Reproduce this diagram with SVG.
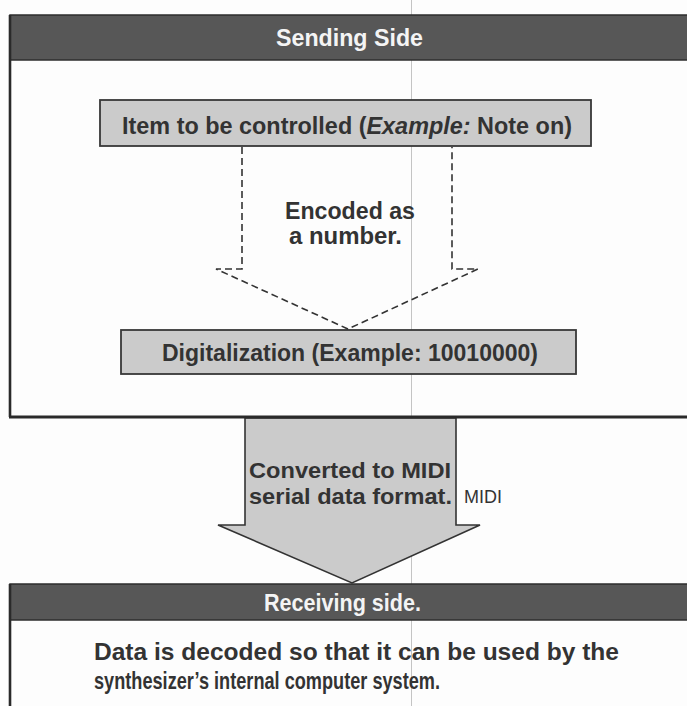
<svg xmlns="http://www.w3.org/2000/svg" width="687" height="706" viewBox="0 0 687 706">
<style>
  .hdr { fill: #575757; stroke: #2e2e2e; stroke-width: 1.5; }
  .hdrtxt { font-family: "Liberation Sans", Arial, sans-serif; font-weight: bold; font-size: 24px; fill: #f4f4f4; }
  .box { fill: #cbcbcb; stroke: #383838; stroke-width: 1.8; }
  .txt { font-family: "Liberation Sans", Arial, sans-serif; font-weight: bold; font-size: 24px; fill: #333; }
  .txt2 { font-family: "Liberation Sans", Arial, sans-serif; font-weight: bold; font-size: 22px; fill: #333; }
  .border { stroke: #2a2a2a; fill: none; }
  .dash { fill: none; stroke: #333; stroke-width: 1.6; stroke-dasharray: 7 4; }
  .big { fill: #cbcbcb; stroke: #333; stroke-width: 1.6; stroke-linejoin: miter; }
</style>
<rect x="0" y="0" width="687" height="706" fill="#fdfdfd"/>
<line x1="411.5" y1="0" x2="411.5" y2="706" stroke="#c4c4c4" stroke-width="1"/>

<g id="sending">
  <rect class="hdr" x="10" y="15" width="690" height="45"/>
  <text class="hdrtxt" x="276" y="46" textLength="147" lengthAdjust="spacingAndGlyphs">Sending Side</text>
  <line class="border" x1="10" y1="15" x2="10" y2="417" stroke-width="2.6"/>
</g>

<g id="item">
  <rect class="box" x="100" y="100" width="491" height="46"/>
  <text class="txt" x="122" y="134" textLength="450" lengthAdjust="spacingAndGlyphs">Item to be controlled (<tspan font-style="italic">Example:</tspan> Note on)</text>
</g>

<g id="digital">
  <rect class="box" x="121" y="330" width="455" height="44"/>
  <text class="txt" x="162" y="361" textLength="376" lengthAdjust="spacingAndGlyphs">Digitalization (Example: 10010000)</text>
</g>

<g id="connectors">
  <path class="dash" d="M242,147 V269 H216 L348,329 L478,269 H452 V147"/>
  <polygon class="big" points="245,418 456,418 456,525 480,525 352,583 218,525 245,525"/>
  <line class="border" x1="9" y1="417" x2="687" y2="417" stroke-width="3"/>
</g>

<g id="encoded">
  <text class="txt" x="285" y="219" textLength="130" lengthAdjust="spacingAndGlyphs">Encoded as</text>
  <text class="txt" x="289" y="244" textLength="113" lengthAdjust="spacingAndGlyphs">a number.</text>
</g>

<g id="converted">
  <text class="txt2" x="249" y="478" textLength="202" lengthAdjust="spacingAndGlyphs">Converted to MIDI</text>
  <text class="txt2" x="249" y="504" textLength="203" lengthAdjust="spacingAndGlyphs">serial data format.</text>
  <text x="464" y="503" font-family="'Liberation Sans', Arial, sans-serif" font-size="19" fill="#333" textLength="38" lengthAdjust="spacingAndGlyphs">MIDI</text>
</g>

<g id="receiving">
  <rect class="hdr" x="10" y="584" width="690" height="36"/>
  <text class="hdrtxt" x="264" y="611" textLength="157" lengthAdjust="spacingAndGlyphs">Receiving side.</text>
  <line class="border" x1="10" y1="584" x2="10" y2="706" stroke-width="2.6"/>
  <text class="txt" x="94" y="660" textLength="525" lengthAdjust="spacingAndGlyphs">Data is decoded so that it can be used by the</text>
  <text class="txt" x="94" y="689" textLength="346" lengthAdjust="spacingAndGlyphs">synthesizer’s internal computer system.</text>
</g>
</svg>
